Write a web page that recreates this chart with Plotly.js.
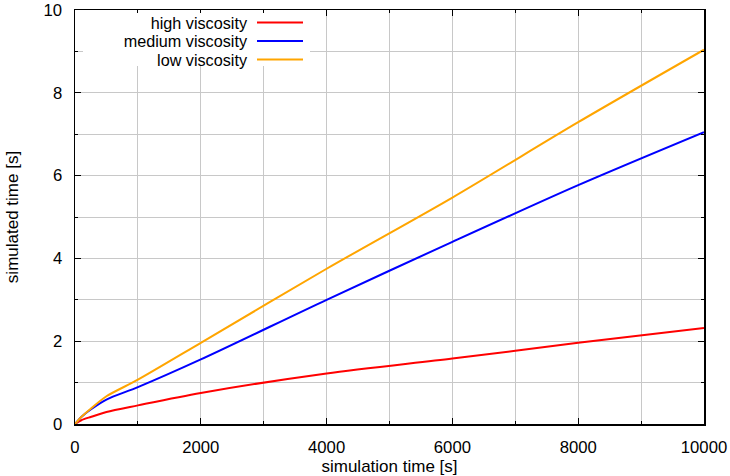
<!DOCTYPE html>
<html>
<head>
<meta charset="utf-8">
<script src="https://cdn.plot.ly/plotly-3.0.1.min.js"></script>
<style>
  html, body { margin: 0; padding: 0; background: #fff; }
  #chart { width: 730px; height: 476px; }
</style>
</head>
<body>
<div id="chart"></div>
<script>
// ---- data ----
const simulationTime = [0, 100, 250, 500, 1000, 2000, 4000, 6000, 8000, 10000];
const highViscosity   = [0, 0.09, 0.17, 0.29, 0.45, 0.75, 1.22, 1.58, 1.96, 2.32];
const mediumViscosity = [0, 0.17, 0.35, 0.59, 0.89, 1.56, 3.00, 4.40, 5.77, 7.05];
const lowViscosity    = [0, 0.17, 0.37, 0.67, 1.07, 1.96, 3.75, 5.47, 7.29, 9.04];
const seriesNames  = ['high viscosity', 'medium viscosity', 'low viscosity'];
const seriesColors = ['#ff0000', '#0000ff', '#ffa500'];
const xTickVals = [0, 2000, 4000, 6000, 8000, 10000];
const yTickVals = [0, 2, 4, 6, 8, 10];

const FONT = 'Liberation Sans, Arial, Helvetica, sans-serif';
const seriesValues = [highViscosity, mediumViscosity, lowViscosity];

const data = seriesValues.map((vals, i) => ({
  type: 'scatter',
  mode: 'lines',
  x: simulationTime,
  y: vals,
  name: seriesNames[i],
  line: { color: seriesColors[i], width: 2, shape: 'spline', smoothing: 0.8 }
}));

const axisCommon = {
  showline: true, linecolor: '#000', linewidth: 1.5, mirror: 'ticks',
  ticks: 'inside', ticklen: 6, tickwidth: 1, tickcolor: '#000',
  showgrid: true, gridcolor: '#c8c8c8', gridwidth: 1,
  zeroline: false,
  tickfont: { family: FONT, size: 16.7, color: '#000' },
  fixedrange: true
};

const layout = {
  width: 730, height: 476,
  margin: { l: 75, r: 26, t: 10, b: 52 },
  paper_bgcolor: '#fff', plot_bgcolor: '#fff',
  font: { family: FONT, size: 16.7, color: '#000' },
  showlegend: true,
  legend: {
    x: 0, y: 1, xanchor: 'left', yanchor: 'top',
    bgcolor: '#fff', borderwidth: 0,
    font: { family: FONT, size: 16.2, color: '#000' }
  },
  xaxis: Object.assign({}, axisCommon, {
    range: [0, 10000], tickmode: 'array', tickvals: xTickVals,
    ticktext: xTickVals.map(String),
    minor: { dtick: 1000, showgrid: true, gridcolor: '#c8c8c8', gridwidth: 1, ticks: 'inside', ticklen: 3, tickcolor: '#000' },
    ticklabelstandoff: 7,
    title: { text: 'simulation time [s]', font: { family: FONT, size: 17 }, standoff: 7 }
  }),
  yaxis: Object.assign({}, axisCommon, {
    range: [0, 10], tickmode: 'array', tickvals: yTickVals,
    ticktext: yTickVals.map(String),
    minor: { dtick: 1, showgrid: true, gridcolor: '#c8c8c8', gridwidth: 1, ticks: 'inside', ticklen: 3, tickcolor: '#000' },
    ticklabelstandoff: 8,
    title: { text: 'simulated time [s]', font: { family: FONT, size: 17 }, standoff: 20 }
  })
};

const gd = document.getElementById('chart');
Plotly.newPlot(gd, data, layout, { displayModeBar: false, staticPlot: true, responsive: false }).then(() => {
  // gnuplot-style key: text right-aligned, line sample to its right
  const L = gd.querySelector('g.legend');
  if (!L) return;
  L.setAttribute('transform', 'translate(0,0)');
  const bg = L.querySelector('rect.bg');
  if (bg) {
    bg.setAttribute('x', 83); bg.setAttribute('y', 13);
    bg.setAttribute('width', 227); bg.setAttribute('height', 53);
    bg.style.fill = '#fff'; bg.style.strokeWidth = '0';
  }
  const sb = L.querySelector('g.scrollbox');
  if (sb) { sb.setAttribute('transform', 'translate(0,0)'); sb.removeAttribute('clip-path'); }
  L.querySelectorAll('g.groups').forEach(g => g.setAttribute('transform', 'translate(0,0)'));
  const rows = [22.5, 41, 59.5];
  L.querySelectorAll('g.traces').forEach((t, i) => {
    t.setAttribute('transform', 'translate(0,' + rows[i] + ')');
    const txt = t.querySelector('text.legendtext');
    if (txt) { txt.setAttribute('x', 247); txt.setAttribute('text-anchor', 'end'); }
    t.querySelectorAll('.legendlines path').forEach(p => p.setAttribute('d', 'M257,0h46'));
  });
});
</script>
</body>
</html>
